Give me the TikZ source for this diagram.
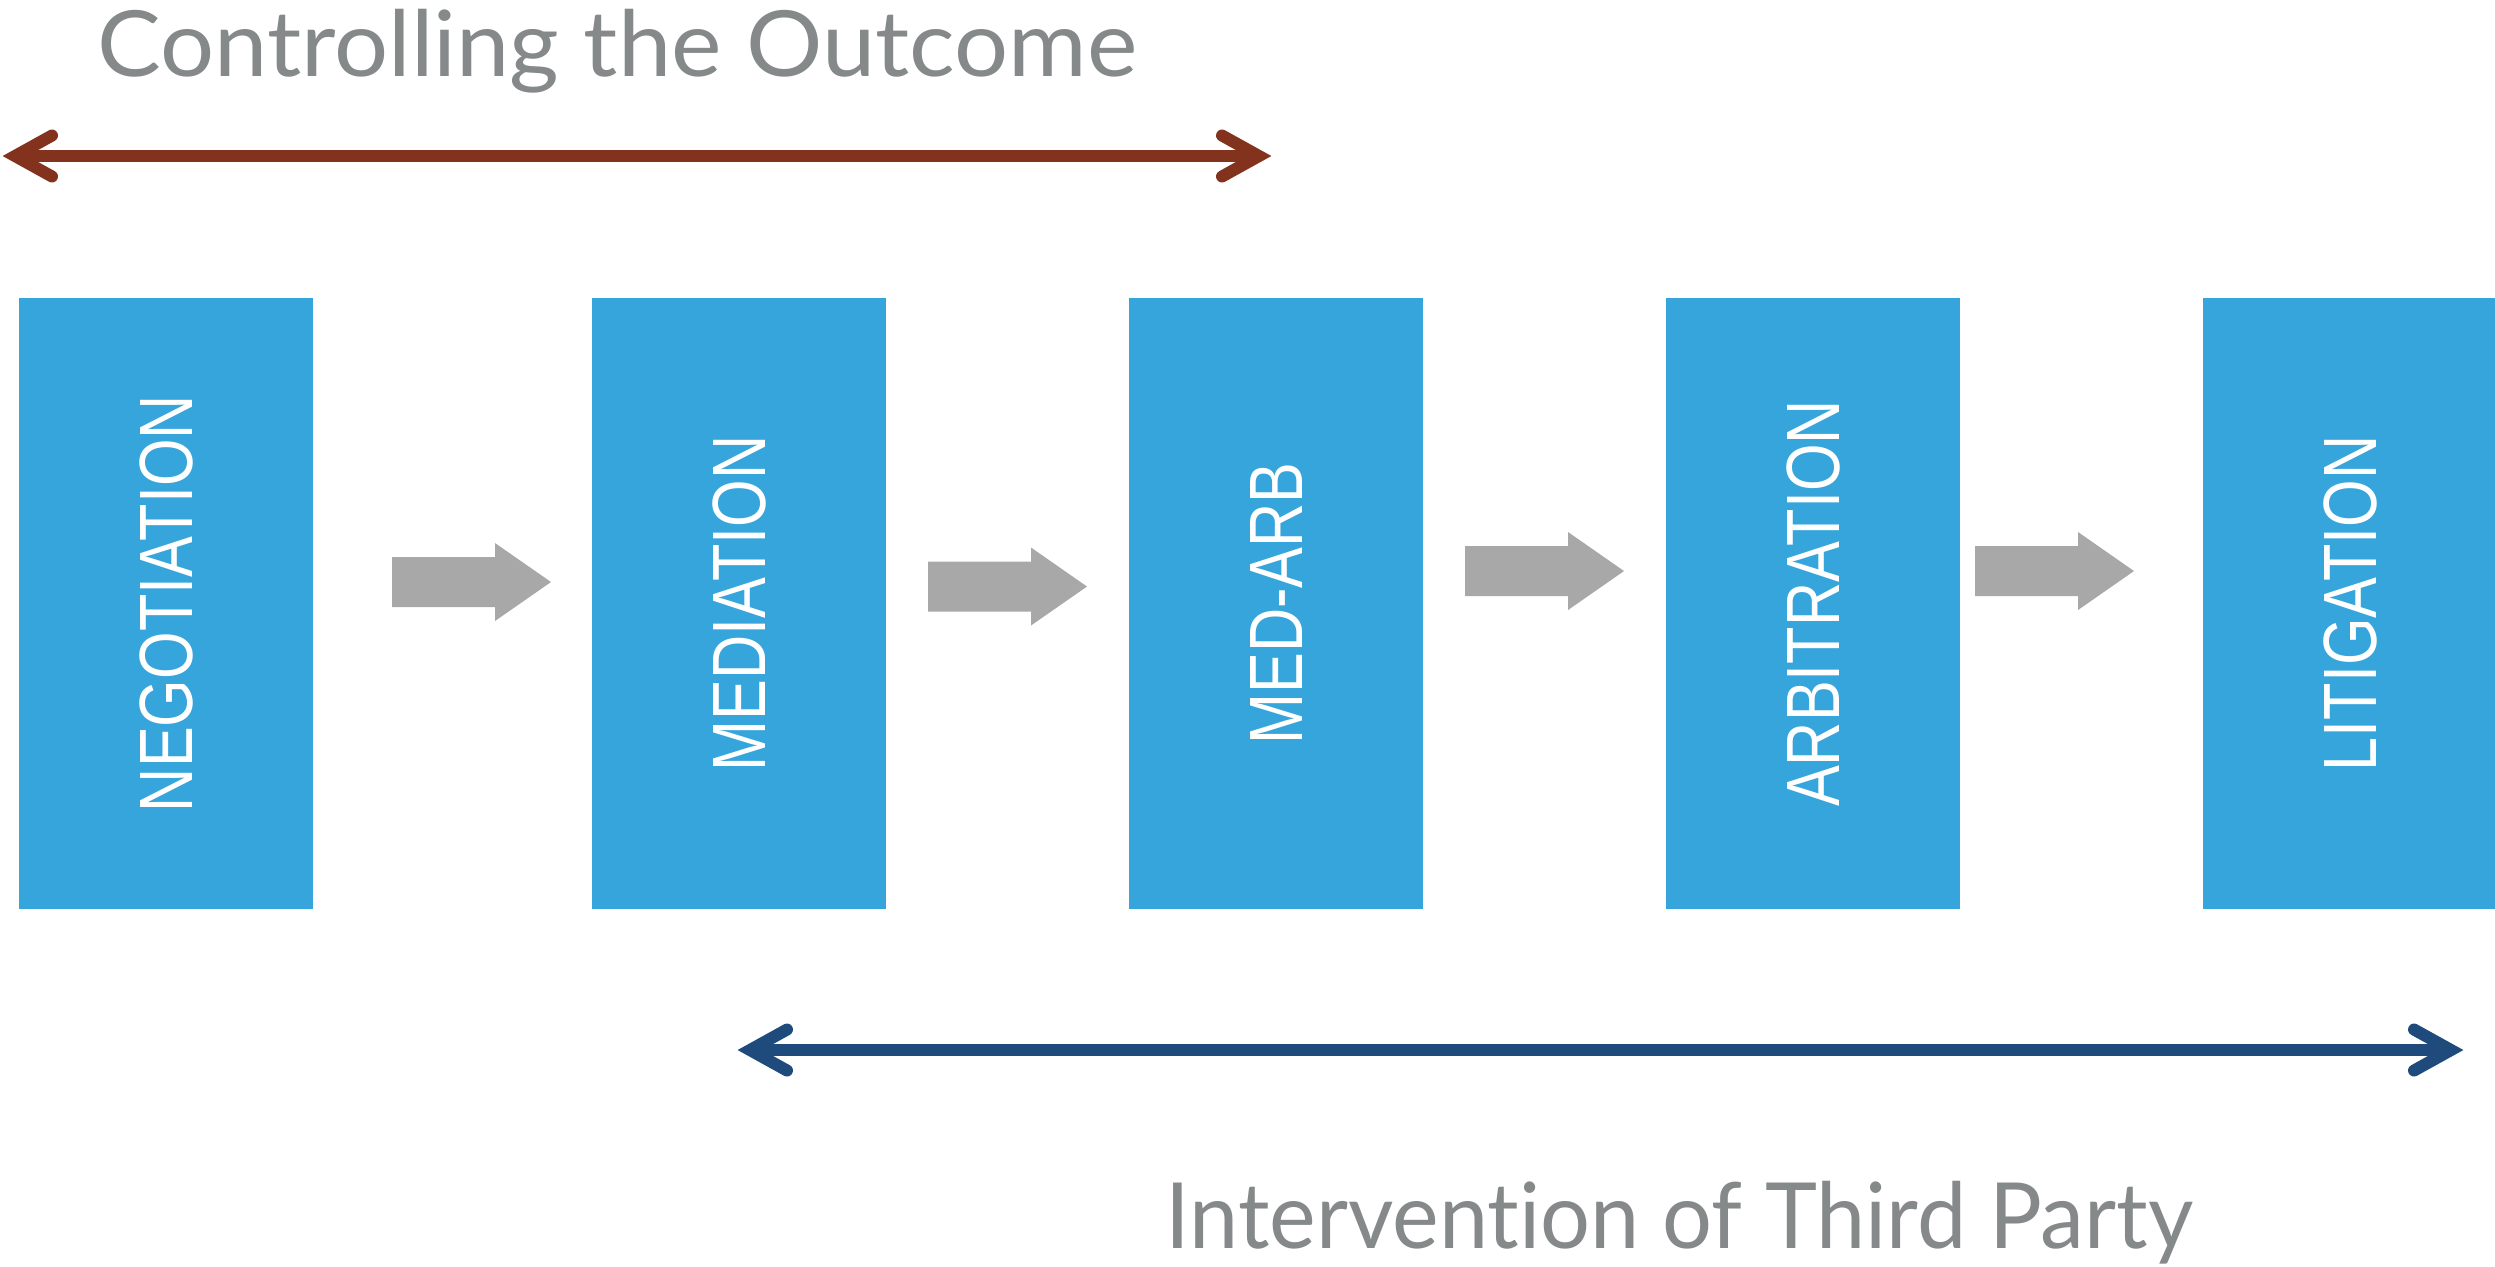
\documentclass[tikz,border=0pt]{standalone}
\usepackage{fontspec}
\newfontfamily\titlefont[Ligatures={NoCommon,NoRequired,NoContextual}]{Lato}
\newfontfamily\boxfont{Liberation Sans}
\definecolor{boxblue}{HTML}{35A5DB}
\definecolor{arrowgray}{HTML}{A8A8A8}
\definecolor{textgray}{HTML}{85898A}
\definecolor{outcomered}{HTML}{83321E}
\definecolor{thirdblue}{HTML}{1F4A7C}
\begin{document}
\begin{tikzpicture}[
  stagebox/.style={fill=boxblue, draw=none, minimum width=2.94cm, minimum height=6.11cm, inner sep=0pt},
  stagetext/.style={rotate=90, text=white, inner sep=0pt, font=\boxfont\fontsize{21.5pt}{22pt}\selectfont},
  heading/.style={text=textgray, inner sep=0pt, anchor=base west, font=\titlefont\fontsize{26pt}{28pt}\selectfont},
  spanline/.style={line width=0.12cm},
  chevron/.style={line width=0.12cm, line cap=round, line join=miter},
  blockarrow/.pic={\fill[arrowgray] (0,-0.25) -- (1.03,-0.25) -- (1.03,-0.39) -- (1.59,0) -- (1.03,0.39) -- (1.03,0.25) -- (0,0.25) -- cycle;}
]
\useasboundingbox (0,0) rectangle (24.95,-12.66);

% headings
\node[heading] (outcome) at (0.97,-0.76) {\scalebox{1.045}[1]{Controlling the Outcome}};
\node[heading] (third) at (11.65,-12.48) {\scalebox{0.965}[1]{Intervention of Third Party}};

% red span arrow
\coordinate (rl) at (0.15,-1.56);
\coordinate (rr) at (12.59,-1.56);
\draw[spanline, outcomered] (rl) -- (rr);
\draw[chevron, outcomered] ([shift={(0.37,0.205)}]rl) -- (rl) -- ([shift={(0.37,-0.205)}]rl);
\draw[chevron, outcomered] ([shift={(-0.37,0.205)}]rr) -- (rr) -- ([shift={(-0.37,-0.205)}]rr);

% blue span arrow
\coordinate (bl) at (7.50,-10.50);
\coordinate (br) at (24.51,-10.50);
\draw[spanline, thirdblue] (bl) -- (br);
\draw[chevron, thirdblue] ([shift={(0.37,0.205)}]bl) -- (bl) -- ([shift={(0.37,-0.205)}]bl);
\draw[chevron, thirdblue] ([shift={(-0.37,0.205)}]br) -- (br) -- ([shift={(-0.37,-0.205)}]br);

% stage boxes
\node[stagebox] (neg) at (1.66,-6.035) {};
\node[stagebox] (med) at (7.39,-6.035) {};
\node[stagebox] (mda) at (12.76,-6.035) {};
\node[stagebox] (arb) at (18.13,-6.035) {};
\node[stagebox, minimum width=2.92cm] (lit) at (23.49,-6.035) {};

\node[stagetext] (negT) at (neg.center) {\scalebox{0.81}[1]{NEGOTIATION}};
\node[stagetext] (medT) at (med.center) {\scalebox{0.81}[1]{MEDIATION}};
\node[stagetext] (mdaT) at (mda.center) {\scalebox{0.81}[1]{MED-ARB}};
\node[stagetext] (arbT) at (arb.center) {\scalebox{0.81}[1]{ARBITRATION}};
\node[stagetext] (litT) at (23.50,-6.035) {\scalebox{0.81}[1]{LITIGATION}};

% gray block arrows
\pic at (3.92,-5.82) {blockarrow};
\pic at (9.28,-5.865) {blockarrow};
\pic at (14.65,-5.71) {blockarrow};
\pic at (19.75,-5.71) {blockarrow};
\end{tikzpicture}
\end{document}
